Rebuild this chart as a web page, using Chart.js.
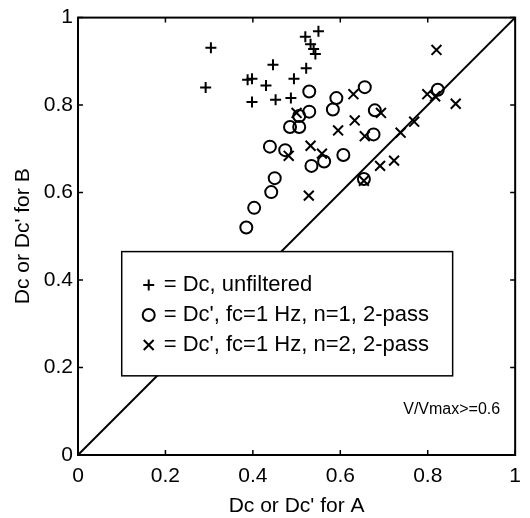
<!DOCTYPE html>
<html>
<head>
<meta charset="utf-8">
<script src="https://cdn.jsdelivr.net/npm/chart.js@4/dist/chart.umd.min.js"></script>
<style>
  html, body { margin: 0; padding: 0; background: #fff; }
  #wrap { width: 530px; height: 518px; }
</style>
</head>
<body>
<div id="wrap"><canvas id="c" width="530" height="518"></canvas></div>
<script>
// Dc (unfiltered): coefficient for A vs coefficient for B
const dcA = [0.550, 0.520, 0.532, 0.539, 0.543, 0.304, 0.446, 0.522, 0.494, 0.388, 0.398, 0.430, 0.292, 0.398, 0.452, 0.487];
const dcB = [0.969, 0.956, 0.939, 0.928, 0.917, 0.931, 0.892, 0.884, 0.860, 0.858, 0.860, 0.845, 0.840, 0.807, 0.812, 0.816];

// Dc' filtered, fc = 1 Hz, n = 1, 2-pass
const n1A = [0.529, 0.529, 0.506, 0.485, 0.506, 0.439, 0.474, 0.534, 0.563, 0.450, 0.442, 0.403, 0.385, 0.656, 0.591, 0.583, 0.679, 0.676, 0.607, 0.654, 0.823];
const n1B = [0.831, 0.785, 0.775, 0.750, 0.750, 0.705, 0.697, 0.661, 0.671, 0.633, 0.601, 0.565, 0.520, 0.841, 0.816, 0.790, 0.788, 0.733, 0.686, 0.631, 0.835];

// Dc' filtered, fc = 1 Hz, n = 2, 2-pass
const n2A = [0.500, 0.532, 0.558, 0.482, 0.528, 0.820, 0.630, 0.799, 0.817, 0.864, 0.595, 0.633, 0.693, 0.656, 0.769, 0.738, 0.723, 0.691, 0.654];
const n2B = [0.782, 0.707, 0.689, 0.684, 0.593, 0.926, 0.825, 0.825, 0.820, 0.803, 0.742, 0.765, 0.782, 0.729, 0.762, 0.737, 0.673, 0.661, 0.627];

// Axis ticks
const tickValues = [0, 0.2, 0.4, 0.6, 0.8, 1];
const tickLabels = ['0', '0.2', '0.4', '0.6', '0.8', '1'];

// Legend entries and annotation
const legendLabels = ['= Dc, unfiltered', "= Dc', fc=1 Hz, n=1, 2-pass", "= Dc', fc=1 Hz, n=2, 2-pass"];
const noteText = 'V/Vmax>=0.6';

const FONT = '"Liberation Sans", Arial, Helvetica, sans-serif';

function pts(xs, ys) { return xs.map((x, i) => ({ x: x, y: ys[i] })); }

const markerStyles = [
  { pointStyle: 'cross', radius: 5.5 },
  { pointStyle: 'circle', radius: 6 },
  { pointStyle: 'crossRot', radius: 7 }
];

function drawMarker(ctx, style, x, y) {
  ctx.save();
  ctx.strokeStyle = '#000';
  ctx.lineWidth = 2;
  ctx.beginPath();
  const r = style.radius;
  if (style.pointStyle === 'cross') {
    ctx.moveTo(x - r, y); ctx.lineTo(x + r, y);
    ctx.moveTo(x, y - r); ctx.lineTo(x, y + r);
  } else if (style.pointStyle === 'circle') {
    ctx.arc(x, y, r, 0, Math.PI * 2);
  } else {
    const d = r * Math.SQRT1_2;
    ctx.moveTo(x - d, y - d); ctx.lineTo(x + d, y + d);
    ctx.moveTo(x - d, y + d); ctx.lineTo(x + d, y - d);
  }
  ctx.stroke();
  ctx.restore();
}

// Frame, inward tick marks, legend box and annotation text
const framePlugin = {
  id: 'frame',
  afterDatasetsDraw(chart) {
    const ctx = chart.ctx;
    const a = chart.chartArea;
    const xs = chart.scales.x, ys = chart.scales.y;
    ctx.save();
    ctx.strokeStyle = '#000';
    ctx.lineWidth = 2;
    ctx.strokeRect(a.left, a.top, a.right - a.left, a.bottom - a.top);
    ctx.lineWidth = 1.5;
    const tl = 5;
    ctx.beginPath();
    tickValues.forEach(v => {
      const px = xs.getPixelForValue(v);
      ctx.moveTo(px, a.bottom); ctx.lineTo(px, a.bottom - tl);
      ctx.moveTo(px, a.top); ctx.lineTo(px, a.top + tl);
      const py = ys.getPixelForValue(v);
      ctx.moveTo(a.left, py); ctx.lineTo(a.left + tl, py);
      ctx.moveTo(a.right, py); ctx.lineTo(a.right - tl, py);
    });
    ctx.stroke();

    // legend box
    const w = a.right - a.left, h = a.bottom - a.top;
    const bx = a.left + 0.10 * w, bx2 = a.left + 0.857 * w;
    const by = a.top + 0.535 * h, by2 = a.top + 0.819 * h;
    ctx.fillStyle = '#fff';
    ctx.fillRect(bx, by, bx2 - bx, by2 - by);
    ctx.lineWidth = 1.5;
    ctx.strokeRect(bx, by, bx2 - bx, by2 - by);
    const rowY = [285, 315, 345];
    ctx.fillStyle = '#000';
    ctx.font = '22px ' + FONT;
    ctx.textBaseline = 'middle';
    ctx.textAlign = 'left';
    legendLabels.forEach((t, i) => {
      drawMarker(ctx, markerStyles[i], bx + 27, rowY[i]);
      ctx.fillText(t, bx + 42, rowY[i]);
    });

    ctx.font = '16px ' + FONT;
    ctx.textAlign = 'right';
    ctx.fillText(noteText, a.right - 15, 410);
    ctx.restore();
  }
};

const datasets = [
  { label: 'Dc, unfiltered', data: pts(dcA, dcB) },
  { label: "Dc', n=1", data: pts(n1A, n1B) },
  { label: "Dc', n=2", data: pts(n2A, n2B) }
].map((d, i) => Object.assign(d, {
  pointStyle: markerStyles[i].pointStyle,
  pointRadius: markerStyles[i].radius,
  pointHoverRadius: markerStyles[i].radius,
  borderColor: '#000',
  backgroundColor: 'rgba(0,0,0,0)',
  pointBorderWidth: 2,
  showLine: false
}));

// identity line
datasets.unshift({
  label: 'y = x',
  data: [{ x: 0, y: 0 }, { x: 1, y: 1 }],
  showLine: true,
  borderColor: '#000',
  borderWidth: 2,
  pointRadius: 0,
  fill: false
});

new Chart(document.getElementById('c'), {
  type: 'scatter',
  data: { datasets: datasets },
  options: {
    responsive: false,
    animation: false,
    devicePixelRatio: 1,
    layout: { padding: { top: 14, right: 3, left: 0, bottom: 0 } },
    plugins: { legend: { display: false }, tooltip: { enabled: false } },
    scales: {
      x: {
        type: 'linear', min: 0, max: 1,
        afterFit(s) { s.height = 63; },
        afterBuildTicks(s) { s.ticks = tickValues.map(v => ({ value: v })); },
        grid: { display: false, drawTicks: false },
        border: { display: false },
        ticks: {
          color: '#000', padding: 9, maxRotation: 0,
          font: { family: FONT, size: 21 },
          callback: (v) => tickLabels[tickValues.indexOf(v)]
        },
        title: {
          display: true, text: 'Dc or Dc\' for A', color: '#000',
          font: { family: FONT, size: 21, lineHeight: 1 },
          padding: { top: 0, bottom: 1 }
        }
      },
      y: {
        type: 'linear', min: 0, max: 1,
        afterFit(s) { s.width = 78; },
        afterBuildTicks(s) { s.ticks = tickValues.map(v => ({ value: v })); },
        grid: { display: false, drawTicks: false },
        border: { display: false },
        ticks: {
          color: '#000', padding: 5,
          font: { family: FONT, size: 21 },
          callback: (v) => tickLabels[tickValues.indexOf(v)]
        },
        title: {
          display: true, text: 'Dc or Dc\' for B', color: '#000',
          font: { family: FONT, size: 21, lineHeight: 1 },
          padding: { top: 13, bottom: 0 }
        }
      }
    }
  },
  plugins: [framePlugin]
});
</script>
</body>
</html>
